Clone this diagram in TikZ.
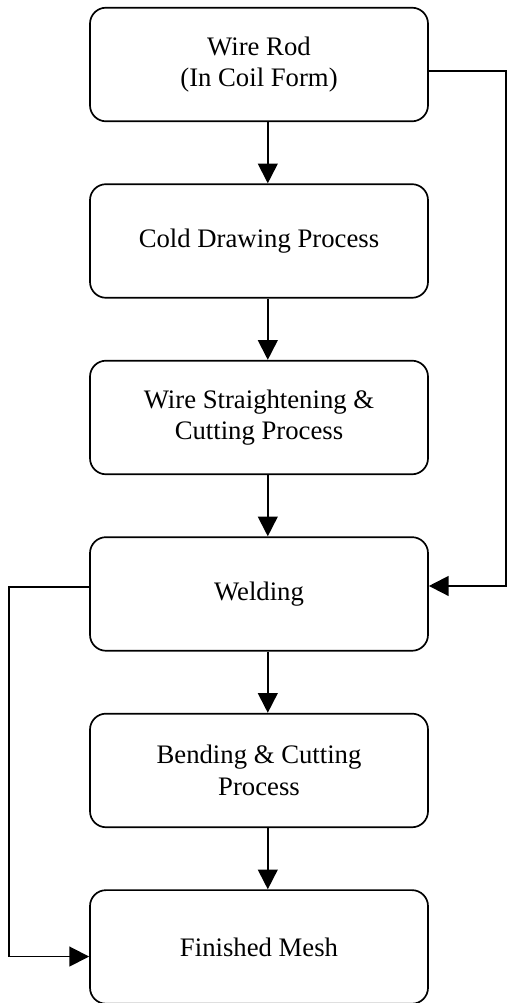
\documentclass[tikz,border=0pt]{standalone}
\usepackage{fontspec}
\setmainfont{Liberation Serif}
\usetikzlibrary{arrows.meta,calc,positioning}
\tikzset{
chart/.style={node distance=1.53cm,line width=1.2pt},
stage/.style={rectangle,draw,rounded corners=0.4cm,line width=1.2pt,
    minimum width=8.45cm,minimum height=2.84cm,align=center,
    font=\fontsize{19}{22.5}\selectfont},
flow/.style={-{Triangle[width=14pt,length=14pt]},line width=1.3pt},
}

\begin{document}
\begin{tikzpicture}[chart]
    \useasboundingbox (0,0) rectangle (12.7,-25.075);

    \node[stage] (rod) at (6.475,-1.6125) {Wire Rod\\(In Coil Form)};
    \node[stage] (draw) [below=of rod] {Cold Drawing Process};
    \node[stage] (cut) [below=of draw] {Wire Straightening \&\\Cutting Process};
    \node[stage] (weld) [below=of cut] {Welding};
    \node[stage] (bend) [below=of weld] {Bending \& Cutting\\Process};
    \node[stage] (mesh) [below=of bend] {Finished Mesh};

    \path
        ([xshift=0.22cm]rod.south) edge[flow] ([xshift=0.22cm]draw.north)
        ([xshift=0.22cm]draw.south) edge[flow] ([xshift=0.22cm]cut.north)
        ([xshift=0.22cm]cut.south) edge[flow] ([xshift=0.22cm]weld.north)
        ([xshift=0.22cm]weld.south) edge[flow] ([xshift=0.22cm]bend.north)
        ([xshift=0.22cm]bend.south) edge[flow] ([xshift=0.22cm]mesh.north)
    ;
    % side routes
    \draw[flow] ([yshift=-0.16cm]rod.east) -| ($(weld.east)+(1.925,0.2)$)
        -- ([yshift=0.2cm]weld.east);
    \draw[flow] ([yshift=0.18cm]weld.west) -| ($(mesh.west)+(-2.0,-0.24)$)
        -- ([yshift=-0.24cm]mesh.west);
\end{tikzpicture}
\end{document}
